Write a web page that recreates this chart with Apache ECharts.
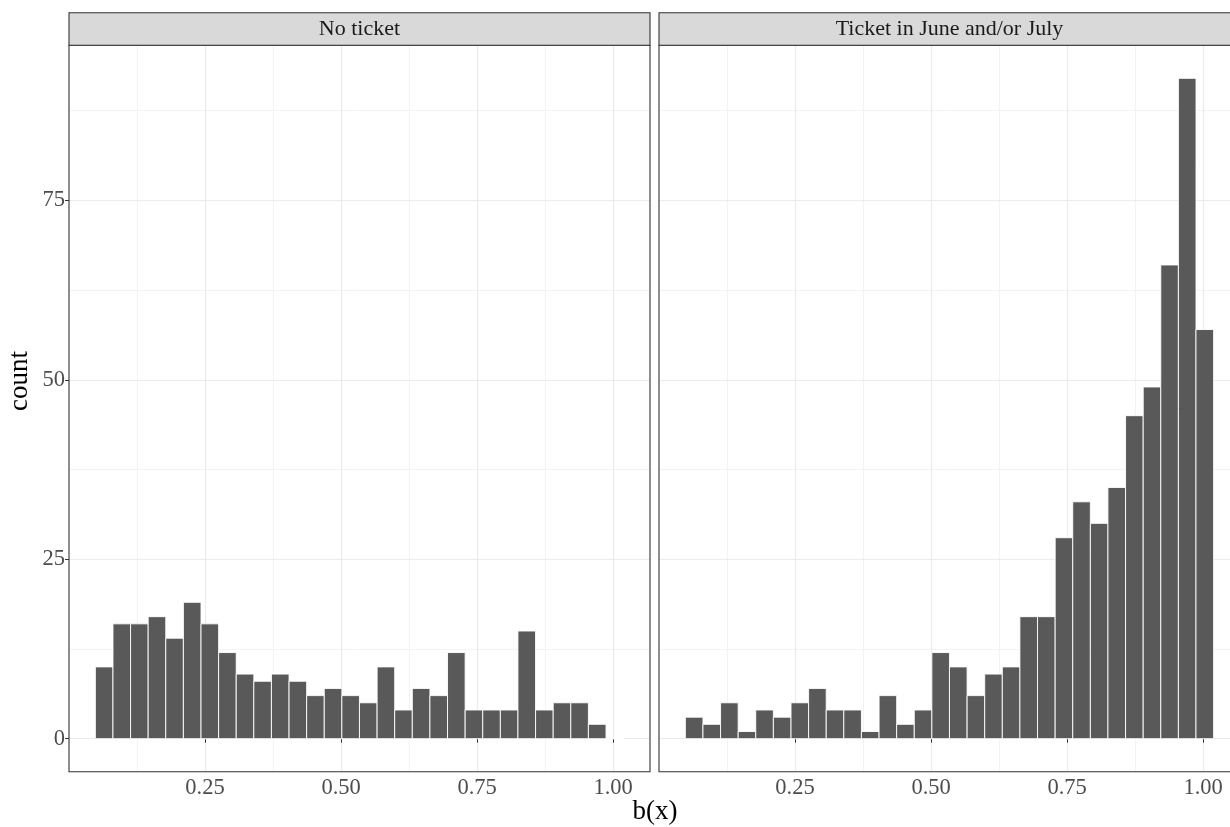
<!DOCTYPE html>
<html><head><meta charset="utf-8">
<script src="https://cdn.jsdelivr.net/npm/echarts@6/dist/echarts.min.js"></script>
<style>html,body{margin:0;padding:0;background:#fff}#c{width:1230px;height:827px}</style>
</head><body><div id="c"></div>
<script>
const panels = ['No ticket', 'Ticket in June and/or July'];
const binCenters = [0.0646, 0.0970, 0.1293, 0.1617, 0.1940, 0.2264, 0.2588, 0.2911, 0.3235, 0.3558,
                    0.3882, 0.4206, 0.4529, 0.4853, 0.5176, 0.5500, 0.5824, 0.6147, 0.6471, 0.6794,
                    0.7118, 0.7442, 0.7765, 0.8089, 0.8412, 0.8736, 0.9060, 0.9383, 0.9707, 1.0030];
const binWidth = 0.03236;
const countsNoTicket = [10, 16, 16, 17, 14, 19, 16, 12, 9, 8, 9, 8, 6, 7, 6, 5, 10, 4, 7, 6, 12, 4, 4, 4, 15, 4, 5, 5, 2, 0];
const countsTicket = [3, 2, 5, 1, 4, 3, 5, 7, 4, 4, 1, 6, 2, 4, 12, 10, 6, 9, 10, 17, 17, 28, 33, 30, 35, 45, 49, 66, 92, 57];
const xMajorTicks = [0.25, 0.50, 0.75, 1.00];
const xMinorTicks = [0.125, 0.375, 0.625, 0.875];
const yMajorTicks = [0, 25, 50, 75];
const yMinorTicks = [12.5, 37.5, 62.5, 87.5];

const FONT = 'Liberation Serif';
const X_MIN = 0, X_MAX = 1.0677, Y_MIN = -4.6, Y_MAX = 96.6;
const PANEL_TOP = 45.3, PANEL_H = 726.4, PANEL_W = 581;
const PX_PER_UNIT = PANEL_W / X_MAX;
const panelLefts = [69, 659];
// visible widths (right panel is cut off by the picture edge)
const visibleW = [581, 571];
const allCounts = [countsNoTicket, countsTicket];

const chart = echarts.init(document.getElementById('c'), null, {renderer: 'canvas'});

const grids = [], xAxes = [], yAxes = [], series = [], graphics = [];
panelLefts.forEach((left, i) => {
  const xMax = visibleW[i] / PX_PER_UNIT;
  grids.push({left: left, top: PANEL_TOP, width: visibleW[i], height: PANEL_H, show: false, containLabel: false});
  xAxes.push({type: 'value', gridIndex: i, min: X_MIN, max: xMax, position: 'bottom',
    axisLine: {show: false},
    axisTick: {show: true, customValues: xMajorTicks, length: 4, lineStyle: {color: '#333333', width: 1}},
    axisLabel: {show: true, customValues: xMajorTicks, formatter: v => v.toFixed(2), color: '#4D4D4D',
      fontFamily: FONT, fontSize: 22.5, margin: 5},
    splitLine: {show: true, lineStyle: {color: '#EBEBEB', width: 1.2}}});
  xAxes.push({type: 'value', gridIndex: i, min: X_MIN, max: xMax, position: 'bottom',
    axisLine: {show: false},
    axisTick: {show: false, customValues: xMinorTicks},
    axisLabel: {show: false, customValues: xMinorTicks},
    splitLine: {show: true, lineStyle: {color: '#EBEBEB', width: 0.6}}});
  yAxes.push({type: 'value', gridIndex: i, min: Y_MIN, max: Y_MAX, position: 'left',
    axisLine: {show: false},
    axisTick: {show: i === 0, customValues: yMajorTicks, length: 4, lineStyle: {color: '#333333', width: 1}},
    axisLabel: {show: i === 0, customValues: yMajorTicks, color: '#4D4D4D', fontFamily: FONT, fontSize: 22.5, margin: 4},
    splitLine: {show: true, lineStyle: {color: '#EBEBEB', width: 1.2}}});
  yAxes.push({type: 'value', gridIndex: i, min: Y_MIN, max: Y_MAX, position: 'left',
    axisLine: {show: false},
    axisTick: {show: false, customValues: yMinorTicks},
    axisLabel: {show: false, customValues: yMinorTicks},
    splitLine: {show: true, lineStyle: {color: '#EBEBEB', width: 0.6}}});
  series.push({type: 'custom', xAxisIndex: 2 * i, yAxisIndex: 2 * i, clip: true, z: 3,
    encode: {x: 0, y: 1},
    data: binCenters.map((c, j) => [c, allCounts[i][j]]),
    renderItem: function (params, api) {
      const c = api.value(0), v = api.value(1);
      const p0 = api.coord([c - binWidth / 2, 0]);
      const p1 = api.coord([c + binWidth / 2, v]);
      return {type: 'rect',
        shape: {x: p0[0], y: p1[1], width: p1[0] - p0[0], height: p0[1] - p1[1]},
        style: {fill: '#595959', stroke: '#FFFFFF', lineWidth: 0.9}};
    }});
  // panel border
  graphics.push({type: 'rect', x: left, y: PANEL_TOP, z: 9, silent: true,
    shape: {x: 0, y: 0, width: PANEL_W, height: PANEL_H},
    style: {fill: 'none', stroke: '#333333', lineWidth: 1.1}});
  // strip
  graphics.push({type: 'rect', x: left, y: 12.7, z: 10, silent: true,
    shape: {x: 0, y: 0, width: PANEL_W, height: PANEL_TOP - 12.7},
    style: {fill: '#D9D9D9', stroke: '#333333', lineWidth: 1.1}});
  graphics.push({type: 'text', z: 11, x: left + PANEL_W / 2, y: (12.7 + PANEL_TOP) / 2 + 0.5,
    style: {text: panels[i], fill: '#1A1A1A', font: '22px "Liberation Serif"', textAlign: 'center', textVerticalAlign: 'middle'}});
});
graphics.push({type: 'text', z: 11, x: 20, y: 381, rotation: Math.PI / 2,
  style: {text: 'count', fill: '#000000', font: '27px "Liberation Serif"', textAlign: 'center', textVerticalAlign: 'middle'}});
graphics.push({type: 'text', z: 11, x: 655, y: 812,
  style: {text: 'b(x)', fill: '#000000', font: '27px "Liberation Serif"', textAlign: 'center', textVerticalAlign: 'middle'}});

chart.setOption({
  animation: false,
  backgroundColor: '#FFFFFF',
  grid: grids, xAxis: xAxes, yAxis: yAxes, series: series, graphic: graphics
});
</script></body></html>
